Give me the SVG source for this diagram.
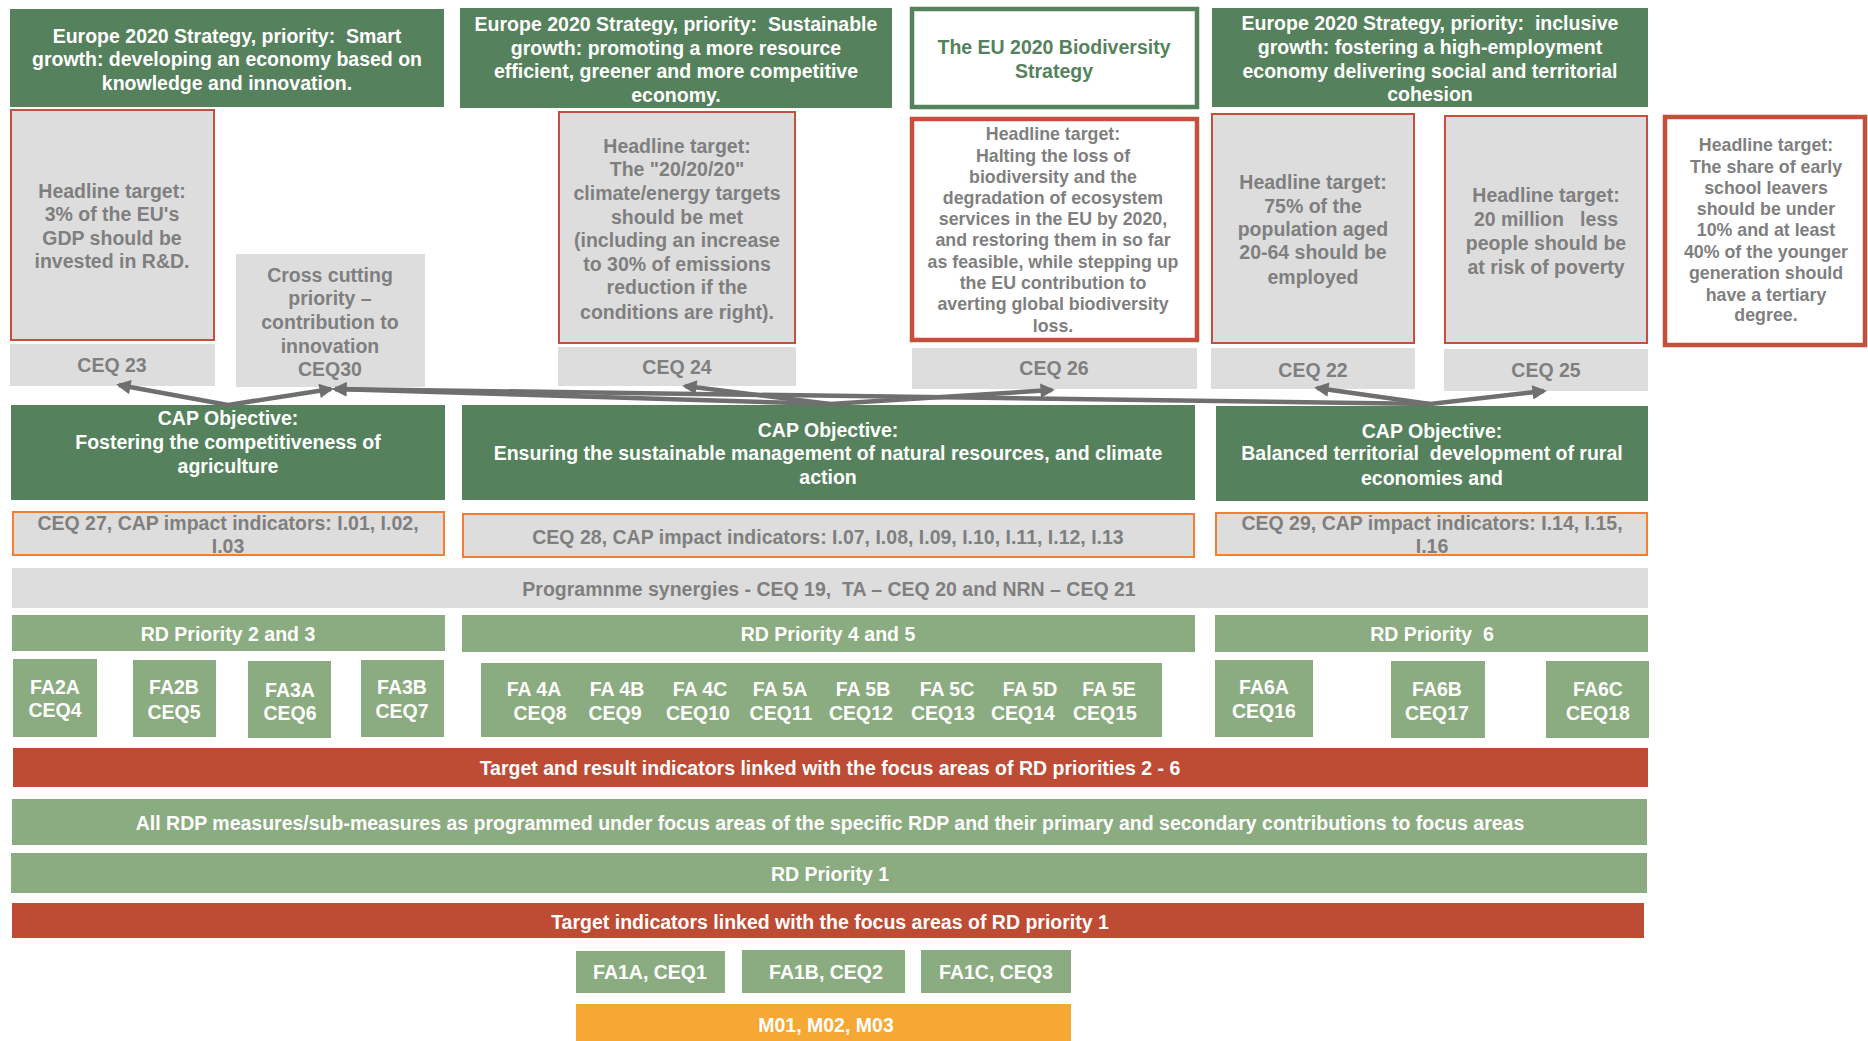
<svg xmlns="http://www.w3.org/2000/svg" width="1868" height="1041" viewBox="0 0 1868 1041">
<defs>
<style>
text{font-family:"Liberation Sans",Arial,sans-serif;font-weight:bold;font-size:19.5px;text-anchor:middle;white-space:pre}
.w{fill:#ffffff}
.g{fill:#7f7f7f}
.gt{fill:#55825c}
.sm{font-size:17.8px}
.dg{fill:#55825c}
.lg{fill:#8bac80}
.gr{fill:#dddddd}
.rd{fill:#be4b33}
.or{fill:#f5a833}
.ht{fill:#dddddd;stroke:#c4503c;stroke-width:2}
.htw{fill:#ffffff;stroke:#c4503c;stroke-width:4.5}
.imp{fill:#dddddd;stroke:#f4802f;stroke-width:2}
.conn{stroke:#6f6f6f;stroke-width:4.5;fill:none;marker-end:url(#ah)}
</style>
<marker id="ah" viewBox="0 0 10 10" refX="8" refY="5" markerWidth="4" markerHeight="3.2" orient="auto" markerUnits="strokeWidth">
<path d="M0,0 L10,5 L0,10 z" fill="#6f6f6f"/>
</marker>
</defs>
<rect width="1868" height="1041" fill="#ffffff"/>

<g id="eu-smart">
<rect class="dg" x="10" y="9" width="434" height="98"/>
<text class="w" x="227" y="43" xml:space="preserve">Europe 2020 Strategy, priority:  Smart</text>
<text class="w" x="227" y="66">growth: developing an economy based on</text>
<text class="w" x="227" y="90">knowledge and innovation.</text>
</g>
<g id="eu-sustainable">
<rect class="dg" x="460" y="8" width="432" height="100"/>
<text class="w" x="676" y="31" xml:space="preserve">Europe 2020 Strategy, priority:  Sustainable</text>
<text class="w" x="676" y="55">growth: promoting a more resource</text>
<text class="w" x="676" y="78">efficient, greener and more competitive</text>
<text class="w" x="676" y="102">economy.</text>
</g>
<g id="eu-biodiversity">
<rect x="912" y="9" width="285" height="98" fill="#ffffff" stroke="#55825c" stroke-width="4.5"/>
<text class="gt" x="1054" y="54">The EU 2020 Biodiversity</text>
<text class="gt" x="1054" y="78">Strategy</text>
</g>
<g id="eu-inclusive">
<rect class="dg" x="1212" y="8" width="436" height="99"/>
<text class="w" x="1430" y="30" xml:space="preserve">Europe 2020 Strategy, priority:  inclusive</text>
<text class="w" x="1430" y="54">growth: fostering a high-employment</text>
<text class="w" x="1430" y="78">economy delivering social and territorial</text>
<text class="w" x="1430" y="101">cohesion</text>
</g>

<g id="ht-rd">
<rect class="ht" x="11" y="110" width="203" height="230"/>
<text class="g" x="112" y="198">Headline target:</text>
<text class="g" x="112" y="221">3% of the EU's</text>
<text class="g" x="112" y="245">GDP should be</text>
<text class="g" x="112" y="268">invested in R&amp;D.</text>
</g>
<g id="ceq23">
<rect class="gr" x="10" y="344" width="205" height="42"/>
<text class="g" x="112" y="372">CEQ 23</text>
</g>
<g id="cross-cutting">
<rect class="gr" x="236" y="254" width="189" height="133"/>
<text class="g" x="330" y="282">Cross cutting</text>
<text class="g" x="330" y="305">priority –</text>
<text class="g" x="330" y="329">contribution to</text>
<text class="g" x="330" y="353">innovation</text>
<text class="g" x="330" y="376">CEQ30</text>
</g>
<g id="ht-climate">
<rect class="ht" x="559" y="112" width="236" height="231"/>
<text class="g" x="677" y="153">Headline target:</text>
<text class="g" x="677" y="176">The "20/20/20"</text>
<text class="g" x="677" y="200">climate/energy targets</text>
<text class="g" x="677" y="224">should be met</text>
<text class="g" x="677" y="247">(including an increase</text>
<text class="g" x="677" y="271">to 30% of emissions</text>
<text class="g" x="677" y="294">reduction if the</text>
<text class="g" x="677" y="319">conditions are right).</text>
</g>
<g id="ceq24">
<rect class="gr" x="558" y="347" width="238" height="39"/>
<text class="g" x="677" y="374">CEQ 24</text>
</g>
<g id="ht-biodiversity">
<rect class="htw" x="912" y="119" width="285" height="221"/>
<text class="g sm" x="1053" y="140">Headline target:</text>
<text class="g sm" x="1053" y="162">Halting the loss of</text>
<text class="g sm" x="1053" y="183">biodiversity and the</text>
<text class="g sm" x="1053" y="204">degradation of ecosystem</text>
<text class="g sm" x="1053" y="225">services in the EU by 2020,</text>
<text class="g sm" x="1053" y="246">and restoring them in so far</text>
<text class="g sm" x="1053" y="268">as feasible, while stepping up</text>
<text class="g sm" x="1053" y="289">the EU contribution to</text>
<text class="g sm" x="1053" y="310">averting global biodiversity</text>
<text class="g sm" x="1053" y="332">loss.</text>
</g>
<g id="ceq26">
<rect class="gr" x="912" y="348" width="285" height="41"/>
<text class="g" x="1054" y="375">CEQ 26</text>
</g>
<g id="ht-employment">
<rect class="ht" x="1212" y="114" width="202" height="229"/>
<text class="g" x="1313" y="189">Headline target:</text>
<text class="g" x="1313" y="213">75% of the</text>
<text class="g" x="1313" y="236">population aged</text>
<text class="g" x="1313" y="259">20-64 should be</text>
<text class="g" x="1313" y="284">employed</text>
</g>
<g id="ceq22">
<rect class="gr" x="1211" y="348" width="204" height="41"/>
<text class="g" x="1313" y="377">CEQ 22</text>
</g>
<g id="ht-poverty">
<rect class="ht" x="1445" y="116" width="202" height="227"/>
<text class="g" x="1546" y="202">Headline target:</text>
<text class="g" x="1546" y="226" xml:space="preserve">20 million   less</text>
<text class="g" x="1546" y="250">people should be</text>
<text class="g" x="1546" y="274">at risk of poverty</text>
</g>
<g id="ceq25">
<rect class="gr" x="1444" y="349" width="204" height="42"/>
<text class="g" x="1546" y="377">CEQ 25</text>
</g>
<g id="ht-education">
<rect class="htw" x="1665" y="117" width="200" height="228"/>
<text class="g sm" x="1766" y="151">Headline target:</text>
<text class="g sm" x="1766" y="173">The share of early</text>
<text class="g sm" x="1766" y="194">school leavers</text>
<text class="g sm" x="1766" y="215">should be under</text>
<text class="g sm" x="1766" y="236">10% and at least</text>
<text class="g sm" x="1766" y="258">40% of the younger</text>
<text class="g sm" x="1766" y="279">generation should</text>
<text class="g sm" x="1766" y="301">have a tertiary</text>
<text class="g sm" x="1766" y="321">degree.</text>
</g>

<g id="cap-competitiveness">
<rect class="dg" x="11" y="405" width="434" height="95"/>
<text class="w" x="228" y="425">CAP Objective:</text>
<text class="w" x="228" y="449">Fostering the competitiveness of</text>
<text class="w" x="228" y="473">agriculture</text>
</g>
<g id="cap-sustainable">
<rect class="dg" x="462" y="405" width="733" height="95"/>
<text class="w" x="828" y="437">CAP Objective:</text>
<text class="w" x="828" y="460">Ensuring the sustainable management of natural resources, and climate</text>
<text class="w" x="828" y="484">action</text>
</g>
<g id="cap-territorial">
<rect class="dg" x="1216" y="406" width="432" height="95"/>
<text class="w" x="1432" y="438">CAP Objective:</text>
<text class="w" x="1432" y="460" xml:space="preserve">Balanced territorial  development of rural</text>
<text class="w" x="1432" y="485">economies and</text>
</g>

<g id="impact-27">
<rect class="imp" x="13" y="512" width="431" height="43"/>
<text class="g" x="228" y="530">CEQ 27, CAP impact indicators: I.01, I.02,</text>
<text class="g" x="228" y="553">I.03</text>
</g>
<g id="impact-28">
<rect class="imp" x="463" y="514" width="731" height="43"/>
<text class="g" x="828" y="544">CEQ 28, CAP impact indicators: I.07, I.08, I.09, I.10, I.11, I.12, I.13</text>
</g>
<g id="impact-29">
<rect class="imp" x="1216" y="513" width="431" height="42"/>
<text class="g" x="1432" y="530">CEQ 29, CAP impact indicators: I.14, I.15,</text>
<text class="g" x="1432" y="553">I.16</text>
</g>

<g id="synergies">
<rect class="gr" x="12" y="568" width="1636" height="40"/>
<text class="g" x="829" y="596" xml:space="preserve">Programnme synergies - CEQ 19,  TA – CEQ 20 and NRN – CEQ 21</text>
</g>

<g id="rd-2-3">
<rect class="lg" x="12" y="615" width="433" height="36"/>
<text class="w" x="228" y="641">RD Priority 2 and 3</text>
</g>
<g id="rd-4-5">
<rect class="lg" x="462" y="615" width="733" height="37"/>
<text class="w" x="828" y="641">RD Priority 4 and 5</text>
</g>
<g id="rd-6">
<rect class="lg" x="1215" y="615" width="433" height="37"/>
<text class="w" x="1432" y="641" xml:space="preserve">RD Priority  6</text>
</g>

<g id="fa2a">
<rect class="lg" x="13" y="659" width="84" height="78"/>
<text class="w" x="55" y="694">FA2A</text>
<text class="w" x="55" y="717">CEQ4</text>
</g>
<g id="fa2b">
<rect class="lg" x="133" y="660" width="83" height="77"/>
<text class="w" x="174" y="694">FA2B</text>
<text class="w" x="174" y="719">CEQ5</text>
</g>
<g id="fa3a">
<rect class="lg" x="248" y="661" width="83" height="77"/>
<text class="w" x="290" y="697">FA3A</text>
<text class="w" x="290" y="720">CEQ6</text>
</g>
<g id="fa3b">
<rect class="lg" x="361" y="660" width="83" height="77"/>
<text class="w" x="402" y="694">FA3B</text>
<text class="w" x="402" y="718">CEQ7</text>
</g>
<g id="fa4-5">
<rect class="lg" x="481" y="663" width="681" height="74"/>
<text class="w" x="534" y="696">FA 4A</text>
<text class="w" x="540" y="720">CEQ8</text>
<text class="w" x="617" y="696">FA 4B</text>
<text class="w" x="615" y="720">CEQ9</text>
<text class="w" x="700" y="696">FA 4C</text>
<text class="w" x="698" y="720">CEQ10</text>
<text class="w" x="780" y="696">FA 5A</text>
<text class="w" x="781" y="720">CEQ11</text>
<text class="w" x="863" y="696">FA 5B</text>
<text class="w" x="861" y="720">CEQ12</text>
<text class="w" x="947" y="696">FA 5C</text>
<text class="w" x="943" y="720">CEQ13</text>
<text class="w" x="1030" y="696">FA 5D</text>
<text class="w" x="1023" y="720">CEQ14</text>
<text class="w" x="1109" y="696">FA 5E</text>
<text class="w" x="1105" y="720">CEQ15</text>
</g>
<g id="fa6a">
<rect class="lg" x="1215" y="660" width="98" height="77"/>
<text class="w" x="1264" y="694">FA6A</text>
<text class="w" x="1264" y="718">CEQ16</text>
</g>
<g id="fa6b">
<rect class="lg" x="1391" y="661" width="94" height="77"/>
<text class="w" x="1437" y="696">FA6B</text>
<text class="w" x="1437" y="720">CEQ17</text>
</g>
<g id="fa6c">
<rect class="lg" x="1546" y="661" width="103" height="77"/>
<text class="w" x="1598" y="696">FA6C</text>
<text class="w" x="1598" y="720">CEQ18</text>
</g>

<g id="target-result">
<rect class="rd" x="13" y="748" width="1635" height="39"/>
<text class="w" x="830" y="775">Target and result indicators linked with the focus areas of RD priorities 2 - 6</text>
</g>
<g id="all-rdp">
<rect class="lg" x="12" y="799" width="1635" height="46"/>
<text class="w" x="830" y="830">All RDP measures/sub-measures as programmed under focus areas of the specific RDP and their primary and secondary contributions to focus areas</text>
</g>
<g id="rd-1">
<rect class="lg" x="11" y="853" width="1636" height="40"/>
<text class="w" x="830" y="881">RD Priority 1</text>
</g>
<g id="target-rd1">
<rect class="rd" x="12" y="903" width="1632" height="35"/>
<text class="w" x="830" y="929">Target indicators linked with the focus areas of RD priority 1</text>
</g>
<g id="fa1a">
<rect class="lg" x="576" y="951" width="149" height="42"/>
<text class="w" x="650" y="979">FA1A, CEQ1</text>
</g>
<g id="fa1b">
<rect class="lg" x="742" y="950" width="163" height="43"/>
<text class="w" x="826" y="979">FA1B, CEQ2</text>
</g>
<g id="fa1c">
<rect class="lg" x="921" y="950" width="150" height="43"/>
<text class="w" x="996" y="979">FA1C, CEQ3</text>
</g>
<g id="m01">
<rect class="or" x="576" y="1004" width="495" height="37"/>
<text class="w" x="826" y="1032">M01, M02, M03</text>
</g>

<g id="connectors">
<line class="conn" x1="228" y1="405" x2="119" y2="385"/>
<line class="conn" x1="228" y1="405" x2="331" y2="389"/>
<line class="conn" x1="830" y1="404" x2="335" y2="389"/>
<line class="conn" x1="1430" y1="404" x2="335" y2="389"/>
<line class="conn" x1="830" y1="404" x2="685" y2="386"/>
<line class="conn" x1="830" y1="404" x2="1052" y2="390"/>
<line class="conn" x1="1430" y1="404" x2="1317" y2="388"/>
<line class="conn" x1="1430" y1="404" x2="1544" y2="391"/>
</g>
</svg>
